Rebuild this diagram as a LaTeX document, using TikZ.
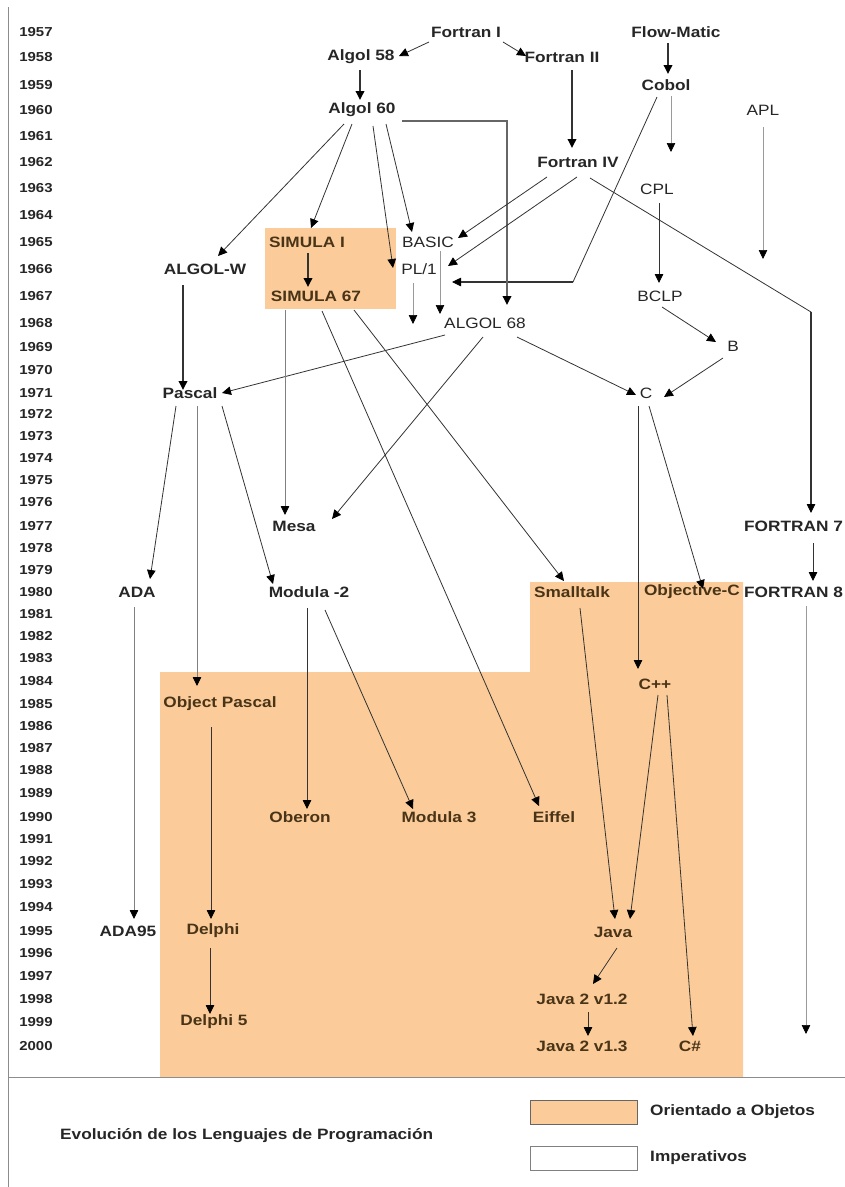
\documentclass[tikz,border=0pt]{standalone}
\usepackage{fontspec}
\newfontfamily\lblfont{Liberation Sans}[FakeStretch=1.15]
\usetikzlibrary{arrows.meta,calc}
\definecolor{oo}{RGB}{251,204,153}
\definecolor{txt}{HTML}{262626}
\definecolor{ootxt}{HTML}{4A3418}
\definecolor{linec}{HTML}{333333}
\definecolor{faintc}{HTML}{9A9A9A}
\definecolor{rulec}{HTML}{8C8C8C}
\begin{document}
\begin{tikzpicture}[x=1pt,y=-1pt,
  lang/.style={font=\lblfont\fontsize{15}{15}\selectfont\bfseries, text=txt, inner sep=0pt},
  ool/.style={lang, text=ootxt},
  plain/.style={font=\lblfont\fontsize{15}{15}\selectfont, text=txt, inner sep=0pt},
  year/.style={font=\lblfont\fontsize{13}{13}\selectfont\bfseries, text=txt, inner sep=0pt},
  link/.style={draw=linec, line width=0.8pt, -{Triangle[length=9pt,width=8.5pt,color=black]}},
  heavy/.style={link, line width=1.8pt},
  faint/.style={link, draw=faintc, line width=0.6pt},
  legbox/.style={draw, minimum width=107pt, minimum height=24pt, inner sep=0pt}]
\useasboundingbox (0,0) rectangle (845,1187);
\clip (0,0) rectangle (845,1187);

% object-oriented area
\fill[oo] (160,672) -- (530,672) -- (530,582) -- (743,582) -- (743,1077) -- (160,1077) -- cycle;
\fill[oo] (265,228) rectangle (396,309);

% frame
\draw[rulec, line width=1pt] (8,7) -- (8,1187);
\draw[rulec, line width=1pt] (8,1077) -- (845,1077);

% year scale
\foreach \yr/\yy in {1957/32,1958/57,1959/85,1960/110,1961/136,1962/162,1963/188,1964/215,
  1965/242,1966/269,1967/296,1968/323,1969/347,1970/370,1971/393,1972/414,1973/436,1974/458,
  1975/480,1976/502,1977/526,1978/548,1979/570,1980/592,1981/614,1982/636,1983/658,1984/681,
  1985/704,1986/726,1987/748,1988/770,1989/793,1990/817,1991/839,1992/861,1993/884,1994/907,
  1995/931,1996/953,1997/976,1998/999,1999/1022,2000/1046}
  \node[year] (y\yr) at (36,\yy) {\yr};

% languages
\node[lang] (f1) at (466,32) {Fortran I};
\node[lang] (flowmatic) at (676,32) {Flow-Matic};
\node[lang] (algol58) at (361,57) {Algol 58};
\node[lang] (f2) at (562,57) {Fortran II};
\node[lang] (cobol) at (666,85) {Cobol};
\node[lang] (algol60) at (362,110) {Algol 60};
\node[plain] (apl) at (763,110) {APL};
\node[lang] (f4) at (578,162) {Fortran IV};
\node[plain] (cpl) at (657,189) {CPL};
\node[ool] (simula1) at (307,242) {SIMULA I};
\node[plain] (basic) at (428,242) {BASIC};
\node[lang] (algolw) at (205,269) {ALGOL-W};
\node[plain] (pl1) at (419,269) {PL/1};
\node[ool] (simula67) at (316,296) {SIMULA 67};
\node[plain] (bclp) at (660,296) {BCLP};
\node[plain] (algol68) at (485,323) {ALGOL 68};
\node[plain] (b) at (733,346) {B};
\node[lang] (pascal) at (190,393) {Pascal};
\node[plain] (c) at (646,393) {C};
\node[lang] (mesa) at (294,526) {Mesa};
\node[lang, anchor=west] (f77) at (744,526) {FORTRAN 7};
\node[lang] (ada) at (137,592) {ADA};
\node[lang] (modula2) at (309,592) {Modula -2};
\node[ool] (smalltalk) at (572,592) {Smalltalk};
\node[ool] (objc) at (692,592) {Objective-C};
\node[lang, anchor=west] (f8) at (744,592) {FORTRAN 8};
\node[ool] (cpp) at (655,684) {C++};
\node[ool] (objpascal) at (220,704) {Object Pascal};
\node[ool] (oberon) at (300,817) {Oberon};
\node[ool] (modula3) at (439,817) {Modula 3};
\node[ool] (eiffel) at (554,817) {Eiffel};
\node[lang] (ada95) at (128,931) {ADA95};
\node[ool] (delphi) at (213,931) {Delphi};
\node[ool] (java) at (613,932) {Java};
\node[ool] (java12) at (582,999) {Java 2 v1.2};
\node[ool] (delphi5) at (214,1022) {Delphi 5};
\node[ool] (java13) at (582,1046) {Java 2 v1.3};
\node[ool] (csharp) at (690,1046) {C\#};

% open-ended lines
\coordinate (cobolend) at (671,152);
\coordinate (aplend) at (763,259);
\coordinate (pl1end) at (413,324);
\coordinate (f8end) at (806,1034);

% influences
\draw[link] ($(f1.center)+(-37,10)$) -- ($(algol58.center)+(38,-1)$);
\draw[link] ($(f1.center)+(37,10)$) -- ($(f2.center)+(-36,-1)$);
\draw[heavy] ($(flowmatic.center)+(-8,11)$) -- ($(cobol.center)+(2,-11)$);
\draw[heavy] ($(algol58.center)+(-1,13)$) -- ($(algol60.center)+(-2,-10)$);
\draw[heavy] ($(f2.center)+(10,13)$) -- ($(f4.center)+(-6,-14)$);
\draw[faint] ($(cobol.center)+(5,11)$) -- (cobolend);
\draw[link] ($(cobol.center)+(-9,12)$) -- ($(cobol.center)+(-93,197)$) -- ($(pl1.center)+(33,13)$);
\draw[linec, line width=1.8pt] ($(cobol.center)+(-93,197)$) -- ($(pl1.center)+(42,13)$);
\draw[heavy, draw=gray!80!black] ($(algol60.center)+(40,11)$) -| ($(algol68.center)+(22,-18)$);
\draw[link] ($(algol60.center)+(-18,14)$) -- ($(algolw.center)+(13,-13)$);
\draw[link] ($(algol60.center)+(-10,14)$) -- ($(simula1.center)+(4,-14)$);
\draw[link] ($(algol60.center)+(11,16)$) -- ($(pl1.center)+(-26,-1)$);
\draw[link] ($(algol60.center)+(24,14)$) -- ($(basic.center)+(-16,-10)$);
\draw[link] ($(f4.center)+(-31,15)$) -- ($(basic.center)+(30,-4)$);
\draw[link] ($(f4.center)+(-1,15)$) -- ($(pl1.center)+(29,-3)$);
\draw[link] ($(f4.center)+(12,16)$) -- ($(f77.west)+(67,-214)$) -- ($(f77.west)+(67,-13)$);
\draw[linec, line width=1.6pt] ($(f77.west)+(67,-214)$) -- ($(f77.west)+(67,-22)$);
\draw[link] ($(cpl.center)+(2,14)$) -- ($(bclp.center)+(-1,-13)$);
\draw[link] ($(bclp.center)+(2,11)$) -- ($(b.center)+(-17,-4)$);
\draw[link] ($(b.center)+(-10,12)$) -- ($(c.center)+(18,4)$);
\draw[link] ($(algol68.center)+(32,14)$) -- ($(c.center)+(-10,2)$);
\draw[faint] ($(apl.center)+(0,17)$) -- (aplend);
\draw[heavy] ($(simula1.center)+(1,11)$) -- ($(simula67.center)+(-8,-9)$);
\draw[faint] ($(pl1.center)+(-6,14)$) -- (pl1end);
\draw[faint] ($(basic.center)+(12,9)$) -- ($(algol68.center)+(-45,-9)$);
\draw[heavy] ($(algolw.center)+(-22,16)$) -- ($(pascal.center)+(-7,-3)$);
\draw[link] ($(algol68.center)+(-40,12)$) -- ($(pascal.center)+(32,0)$);
\draw[link] ($(algol68.center)+(-2,14)$) -- ($(mesa.center)+(38,-7)$);
\draw[link, draw=gray] ($(simula67.center)+(-31,14)$) -- ($(mesa.center)+(-9,-11)$);
\draw[link] ($(simula67.center)+(6,15)$) -- ($(eiffel.center)+(-15,-11)$);
\draw[link] ($(simula67.center)+(38,14)$) -- ($(smalltalk.center)+(-8,-11)$);
\draw[link] ($(pascal.center)+(-14,13)$) -- ($(ada.center)+(13,-13)$);
\draw[link, draw=gray] ($(pascal.center)+(7,13)$) -- ($(objpascal.center)+(-23,-18)$);
\draw[link] ($(pascal.center)+(32,13)$) -- ($(modula2.center)+(-36,-8)$);
\draw[link] ($(c.center)+(-8,13)$) -- ($(cpp.center)+(-17,-15)$);
\draw[link] ($(c.center)+(3,13)$) -- ($(objc.center)+(11,-3)$);
\draw[link] ($(f77.west)+(69,17)$) -- ($(f8.west)+(69,-11)$);
\draw[faint] ($(f8.west)+(62,14)$) -- (f8end);
\draw[link, draw=gray] ($(ada.center)+(-3,15)$) -- ($(ada95.center)+(6,-12)$);
\draw[link] ($(modula2.center)+(-2,16)$) -- ($(oberon.center)+(7,-8)$);
\draw[link] ($(modula2.center)+(16,18)$) -- ($(modula3.center)+(-26,-8)$);
\draw[link] ($(smalltalk.center)+(8,16)$) -- ($(java.center)+(2,-13)$);
\draw[link] ($(cpp.center)+(3,11)$) -- ($(java.center)+(17,-13)$);
\draw[link] ($(cpp.center)+(12,11)$) -- ($(csharp.center)+(3,-10)$);
\draw[link] ($(objpascal.center)+(-9,23)$) -- ($(delphi.center)+(-2,-12)$);
\draw[link] ($(delphi.center)+(-3,17)$) -- ($(delphi5.center)+(-4,-8)$);
\draw[link] ($(java.center)+(4,16)$) -- ($(java12.center)+(11,-15)$);
\draw[link] ($(java12.center)+(6,13)$) -- ($(java13.center)+(6,-10)$);

% legend
\node[lang, anchor=west] (title) at (60,1136) {Evolución de los Lenguajes de Programación};
\node[legbox, fill=oo, draw=black!60, line width=1pt] (kOO) at (583.5,1112.5) {};
\node[legbox, fill=white, draw=gray, line width=0.8pt] (kIMP) at (583.5,1158) {};
\node[lang, anchor=west] (lOO) at (650,1112) {Orientado a Objetos};
\node[lang, anchor=west] (lIMP) at (650,1158) {Imperativos};
\end{tikzpicture}
\end{document}
